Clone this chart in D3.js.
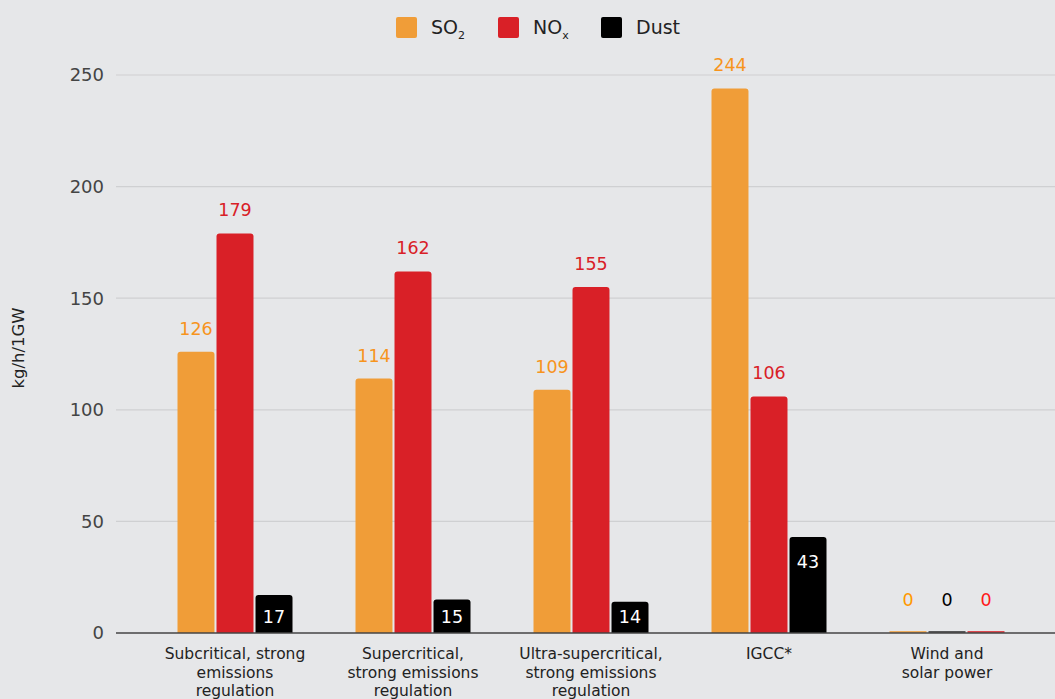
<!DOCTYPE html>
<html><head><meta charset="utf-8">
<script src="https://cdn.jsdelivr.net/npm/d3@7"></script>
<style>
html,body{margin:0;padding:0;background:#e6e7e9;}
svg{display:block;font-family:"DejaVu Sans",sans-serif;}
</style></head>
<body><svg id="c" width="1055" height="699"></svg>
<script>
const categories = [
  ["Subcritical, strong","emissions","regulation"],
  ["Supercritical,","strong emissions","regulation"],
  ["Ultra-supercritical,","strong emissions","regulation"],
  ["IGCC*"],
  ["Wind and","solar power"]
];
const so2 = [126, 114, 109, 244, 0];
const nox = [179, 162, 155, 106, 0];
const dust = [17, 15, 14, 43, 0];
const seriesOrder = [
  ["so2","nox","dust"],["so2","nox","dust"],["so2","nox","dust"],["so2","nox","dust"],["so2","dust","nox"]
];
const yTicks = [0, 50, 100, 150, 200, 250];

const values = {so2, nox, dust};
const colors = {so2:"#f09d38", nox:"#d92027", dust:"#000000"};
const labelColors = {so2:"#f7941d", nox:"#d92027", dust:"#ffffff"};

const svg = d3.select("#c");
const y = d3.scaleLinear().domain([0,250]).range([633,75]);
const x = d3.scaleBand().domain(d3.range(categories.length)).range([146,1036]).padding(0);
const sub = d3.scaleBand().domain([0,1,2]).range([0,115]).paddingInner(0.052).paddingOuter(0);

svg.append("g").selectAll("line").data(yTicks.filter(d=>d>0)).join("line")
  .attr("x1",116).attr("x2",1055).attr("y1",d=>y(d)).attr("y2",d=>y(d))
  .attr("stroke","#cfd0d2").attr("stroke-width",1.2);

svg.append("g").selectAll("text").data(yTicks).join("text")
  .attr("x",104).attr("y",d=>y(d)).attr("dy","0.36em").attr("text-anchor","end")
  .attr("font-size",18).attr("fill","#444").text(d=>d);

svg.append("text").attr("transform","translate(24,348) rotate(-90)")
  .attr("text-anchor","middle").attr("font-size",16.5).attr("fill","#222").text("kg/h/1GW");

const bars = [];
categories.forEach((c,i)=>{
  seriesOrder[i].forEach((s,j)=>{
    bars.push({i, j, s, v: values[s][i]});
  });
});
function topRounded(x0, y0, w, h, r){
  r = Math.min(r, h, w/2);
  if (h <= 0) return "";
  return `M${x0},${y0+h}V${y0+r}Q${x0},${y0} ${x0+r},${y0}H${x0+w-r}Q${x0+w},${y0} ${x0+w},${y0+r}V${y0+h}Z`;
}
const bx = d => x(d.i) + (x.bandwidth()-115)/2 + sub(d.j);
svg.append("g").selectAll("path").data(bars).join("path")
  .attr("d", d => topRounded(bx(d), y(d.v), sub.bandwidth(), y(0)-y(d.v), 3))
  .attr("fill", d=>colors[d.s]);

svg.append("g").selectAll("rect").data(bars.filter(d=>d.v===0)).join("rect")
  .attr("x", bx).attr("y", y(0)-2).attr("width", sub.bandwidth()).attr("height",2)
  .attr("fill", d=> d.s==="dust" ? "#333" : colors[d.s]).attr("opacity",0.8);

svg.append("line").attr("x1",116).attr("x2",1055).attr("y1",y(0)).attr("y2",y(0))
  .attr("stroke","#444").attr("stroke-width",1.5);

svg.append("g").selectAll("text").data(bars).join("text")
  .attr("x", d=> bx(d)+sub.bandwidth()/2)
  .attr("y", d=>{
    if (d.v===0) return y(0)-27;
    if (d.s==="dust") return Math.min(y(d.v)+31, y(0)-10);
    return y(d.v)-17;
  })
  .attr("text-anchor","middle").attr("font-size",17.5)
  .attr("fill", d=> d.v===0 ? (d.s==="dust" ? "#000" : (d.s==="so2" ? "#ff9900" : "#ff1a1a")) : labelColors[d.s])
  .text(d=>d.v);

const cl = svg.append("g").selectAll("text").data(categories).join("text")
  .attr("x",(d,i)=>x(i)+x.bandwidth()/2).attr("y",659)
  .attr("text-anchor","middle").attr("font-size",15.5).attr("fill","#222");
cl.selectAll("tspan").data(d=>d).join("tspan")
  .attr("x", function(){ return d3.select(this.parentNode).attr("x"); })
  .attr("dy",(d,k)=>k===0?0:18.5).text(d=>d);

const legend = [
  {s:"so2", main:"SO", subs:"2", x:396},
  {s:"nox", main:"NO", subs:"x", x:498},
  {s:"dust", main:"Dust", subs:"", x:601}
];
const lg = svg.append("g").selectAll("g").data(legend).join("g")
  .attr("transform", d=>`translate(${d.x},17)`);
lg.append("rect").attr("width",21).attr("height",21).attr("rx",2).attr("fill",d=>colors[d.s]);
const lt = lg.append("text").attr("x",35).attr("y",17).attr("font-size",19).attr("fill","#222");
lt.append("tspan").text(d=>d.main);
lt.append("tspan").attr("font-size",11).attr("dy",5).text(d=>d.subs);
</script>
</body></html>
